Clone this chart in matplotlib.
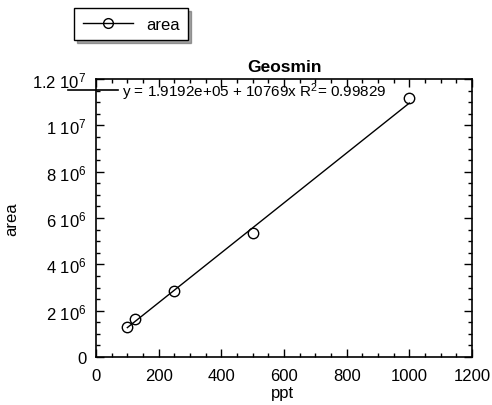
import numpy as np
import matplotlib
matplotlib.use("Agg")
import matplotlib.pyplot as plt
from matplotlib.ticker import FixedLocator, MultipleLocator
from matplotlib.lines import Line2D

plt.rcParams['font.family'] = ['Liberation Sans', 'DejaVu Sans']
plt.rcParams['mathtext.default'] = 'regular'

# data
ppt = [100, 125, 250, 500, 1000]
area = [1.30e6, 1.65e6, 2.87e6, 5.34e6, 1.116e7]
b0 = 1.9192e5
b1 = 10769
r2 = 0.99829

yticks = [0, 2e6, 4e6, 6e6, 8e6, 1e7, 1.2e7]
ylabels = ['0', r'2 10$^6$', r'4 10$^6$', r'6 10$^6$', r'8 10$^6$', r'1 10$^7$', r'1.2 10$^7$']
xticks = [0, 200, 400, 600, 800, 1000, 1200]

fig = plt.figure(figsize=(4.92, 4.06), dpi=100)
ax = fig.add_axes([96/492, 1-358/406, (472-96)/492, (358-80)/406])

xf = np.array([ppt[0], ppt[-1]])
ax.plot(xf, b0 + b1*xf, color='black', lw=1)
ax.plot(ppt, area, 'o', mfc='none', mec='black', ms=7.5, mew=1)

ax.set_xlim(0, 1200)
ax.set_ylim(0, 1.2e7)
ax.xaxis.set_major_locator(FixedLocator(xticks))
ax.xaxis.set_minor_locator(MultipleLocator(50))
ax.yaxis.set_major_locator(FixedLocator(yticks))
ax.yaxis.set_minor_locator(MultipleLocator(5e5))
ax.set_yticklabels(ylabels)
ax.tick_params(which='both', direction='in', top=True, right=True, labelsize=12, colors='black')
ax.tick_params(which='major', length=6, width=1)
ax.tick_params(which='minor', length=3, width=1)
ax.tick_params(axis='x', pad=8)
ax.tick_params(axis='y', pad=7)
for s in ax.spines.values():
    s.set_linewidth(1.2)

ax.set_title('Geosmin', fontsize=12.5, fontweight='bold', pad=6)
ax.set_xlabel('ppt', fontsize=12, va='center')
ax.xaxis.set_label_coords((282-96)/376, (358-394)/278)
ax.set_ylabel('area', fontsize=12, va='center')
ax.yaxis.set_label_coords((12-96)/376, 0.5)

ax.text(0.07, 0.955, 'y = 1.9192e+05 + 10769x R$^2$= 0.99829', transform=ax.transAxes,
        fontsize=11, va='center', ha='left')
fig.add_artist(Line2D([68/492, 118/492], [1-91/406, 1-91/406], color='black', lw=1.2))

# legend box
h = Line2D([], [], color='black', lw=1, marker='o', mfc='none', mec='black', ms=7)
leg = fig.legend([h], ['area'], loc='center', bbox_to_anchor=(131/492, 1-25/406),
                 frameon=True, fancybox=False, shadow=True, fontsize=12,
                 handlelength=3.0, borderpad=0.5, edgecolor='black')
leg.get_frame().set_linewidth(1)

fig.savefig('out.png', dpi=100)
